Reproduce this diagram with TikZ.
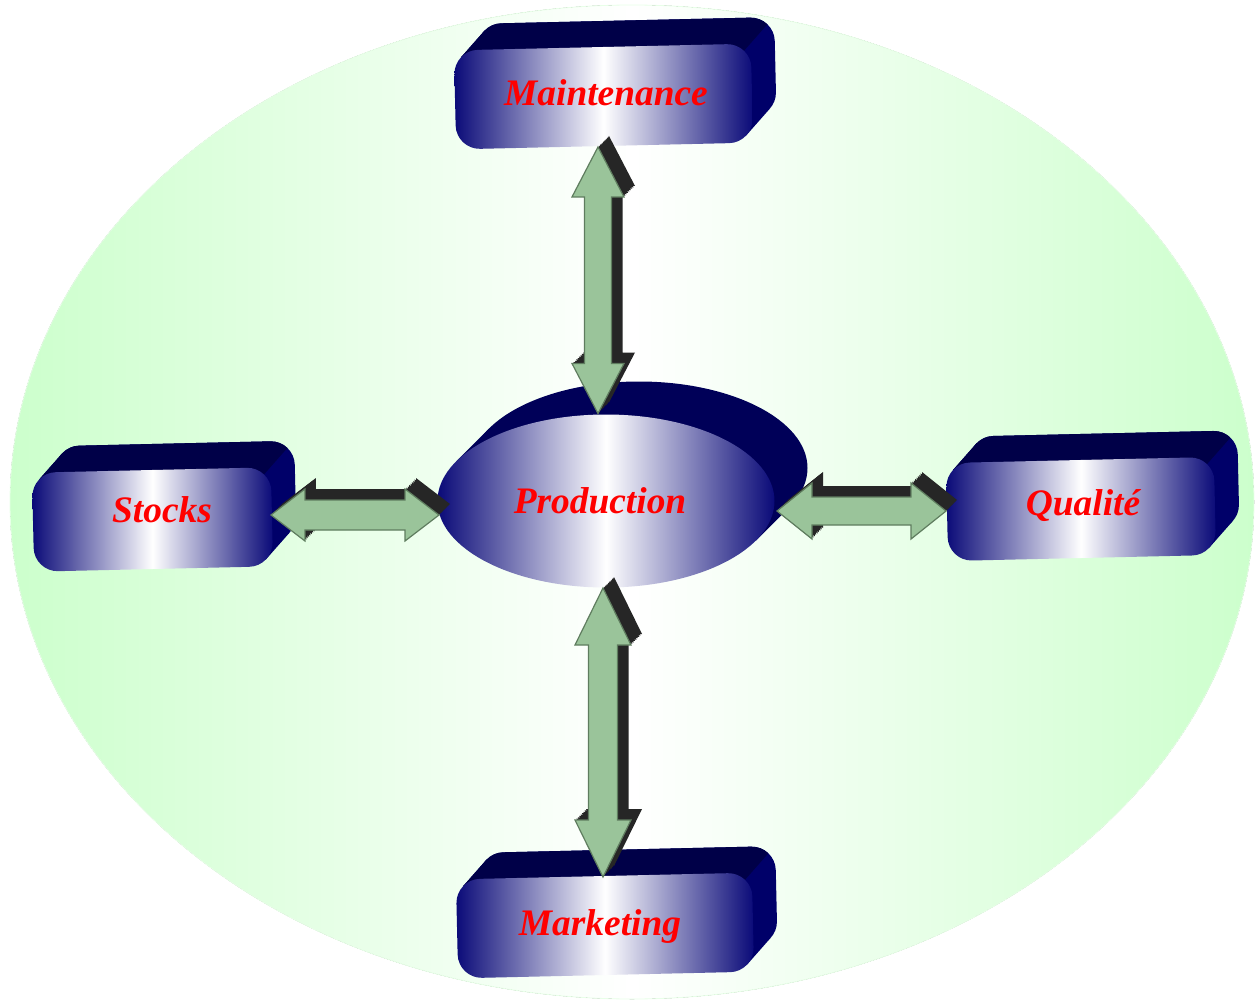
\documentclass[tikz,border=0pt]{standalone}
\usepackage{fontspec}
\setmainfont{Liberation Serif}
\usetikzlibrary{calc,shapes.geometric}

\definecolor{bggreen}{RGB}{204,255,204}
\definecolor{facenavy}{RGB}{10,10,120}
\definecolor{topnavy}{RGB}{0,0,72}
\definecolor{sidenavy}{RGB}{0,0,105}
\definecolor{ovalnavy}{RGB}{0,0,88}
\definecolor{labelred}{RGB}{255,0,0}
\definecolor{arrowgreen}{RGB}{154,196,154}
\definecolor{arrowline}{RGB}{95,125,95}
\definecolor{arrowshadow}{RGB}{38,38,38}

\tikzset{
  face/.style={draw=none, inner sep=0pt, outer sep=0pt,
    left color=facenavy, right color=facenavy, middle color=white},
  boxface/.style={face, rectangle, rounded corners=12pt, transform shape},
  ovalface/.style={face, ellipse},
  lbl/.style={text=labelred, inner sep=0pt, anchor=base,
    font=\fontsize{18.7}{22}\selectfont\bfseries\itshape},
  linkbody/.style={fill=arrowgreen, draw=arrowline, line width=0.6pt, line join=miter},
  linkshade/.style={fill=arrowshadow},
}

% Raised box: extruded back part (top and side faces) and a shaded front face node,
% all tilted slightly about the face centre.
% #1 name, #2 x0, #3 y0, #4 x1, #5 y1 (front face, pixel units)
\newcommand\solidbox[5]{%
  \begin{scope}[rotate around={1.3:({(#2+#4)/2},{(#3+#5)/2})}]
    \fill[sidenavy, rounded corners=12pt] ({#2+24},{#3-26}) rectangle ({#4+24},{#5-26});
    \fill[sidenavy] ({#2+7},{#3+7}) -- ++(24,-26) -- ({#4-7+24},{#5-7-26}) -- ({#4-7},{#5-7}) -- cycle;
    \begin{scope}
      \clip ({#2-100},{#3+7}) -- ({#4-7},{#3+7}) -- ++(72,-78) -- ({#2-100},{#3-200}) -- cycle;
      \fill[topnavy, rounded corners=12pt] ({#2+24},{#3-26}) rectangle ({#4+24},{#5-26});
      \fill[topnavy] ({#2+7},{#3+7}) -- ++(24,-26) -- ({#4-7+24},{#5-7-26}) -- ({#4-7},{#5-7}) -- cycle;
    \end{scope}
    \node[boxface, minimum width={(#4-#2)*0.5pt}, minimum height={(#5-#3)*0.5pt}]
      (#1) at ({(#2+#4)/2},{(#3+#5)/2}) {};
  \end{scope}
}

% Double block arrow between two tip points.
% #1, #2 tips; #3 head half width; #4 shaft half width; #5 head length; #6 style
\newcommand\blocklink[6]{%
  \path[#6] (#1)
    -- ($(#1)!#5!(#2)!#3!90:(#2)$)
    -- ($(#1)!#5!(#2)!#4!90:(#2)$)
    -- ($(#2)!#5!(#1)!#4!-90:(#1)$)
    -- ($(#2)!#5!(#1)!#3!-90:(#1)$)
    -- (#2)
    -- ($(#2)!#5!(#1)!#3!90:(#1)$)
    -- ($(#2)!#5!(#1)!#4!90:(#1)$)
    -- ($(#1)!#5!(#2)!#4!-90:(#2)$)
    -- ($(#1)!#5!(#2)!#3!-90:(#2)$)
    -- cycle;
}
% Link with its dark extruded shadow
\newcommand\shadedlink[5]{%
  \foreach \k in {1,...,8}{%
    \begin{scope}[transform canvas={shift={({11*\k/8},{-11*\k/8})}}]
      \blocklink{#1}{#2}{#3}{#4}{#5}{linkshade}
    \end{scope}
  }
  \blocklink{#1}{#2}{#3}{#4}{#5}{linkbody}
}

\begin{document}
\begin{tikzpicture}[x=0.5pt, y=-0.5pt]
  \useasboundingbox (0,0) rectangle (1255,1001);

  % backdrop
  \fill[bggreen!50] (632,502) ellipse [x radius=311pt, y radius=248.5pt];
  \fill[left color=bggreen, right color=bggreen, middle color=white]
    (632,502) ellipse [x radius=311pt, y radius=248.5pt];
  \draw[bggreen!45, line width=0.4pt] (632,502) ellipse [x radius=311pt, y radius=248.5pt];

  % satellite boxes
  \solidbox{maint}{455}{47}{752}{146}
  \solidbox{stock}{33}{470}{272}{569}
  \solidbox{qual}{947}{460}{1215}{558}
  \solidbox{mark}{457}{876}{753}{975}

  % central disc with its extrusion
  \fill[ovalnavy] (639,468) ellipse [x radius=84.25pt, y radius=43.25pt];
  \fill[ovalnavy] (456,461.5) -- (489,428.5) -- (789,507.5) -- (756,540.5) -- cycle;
  \node[ovalface, minimum width=168.5pt, minimum height=86.5pt] (prod) at (606,501) {};

  % labels
  \node[lbl] (maint-text) at (606,105) {Maintenance};
  \node[lbl] (stock-text) at (162,522) {Stocks};
  \node[lbl] (qual-text) at (1083,515) {Qualité};
  \node[lbl] (mark-text) at (600,935) {Marketing};
  \node[lbl] (prod-text) at (600,513) {Production};

  % link end points (each link kept straight along its axis)
  \coordinate (m2) at ($(prod.north)+(-8,-1)$);
  \coordinate (m1) at ($(m2 |- maint.south)+(0,1)$);
  \coordinate (k1) at ($(prod.south)+(-3,0.5)$);
  \coordinate (k2) at ($(k1 |- mark.north)+(0,1)$);
  \coordinate (s2) at ($(prod.west)+(1.5,14)$);
  \coordinate (s1) at ($(stock.east |- s2)+(-1,0)$);
  \coordinate (q1) at ($(prod.east)+(2.5,10)$);
  \coordinate (q2) at ($(qual.west |- q1)+(-1,0)$);

  % links
  \shadedlink{m1}{m2}{13pt}{6.75pt}{25pt}
  \shadedlink{k1}{k2}{14pt}{7.25pt}{28.5pt}
  \shadedlink{s1}{s2}{13pt}{7.5pt}{17pt}
  \shadedlink{q1}{q2}{14pt}{7pt}{17.5pt}
\end{tikzpicture}
\end{document}
